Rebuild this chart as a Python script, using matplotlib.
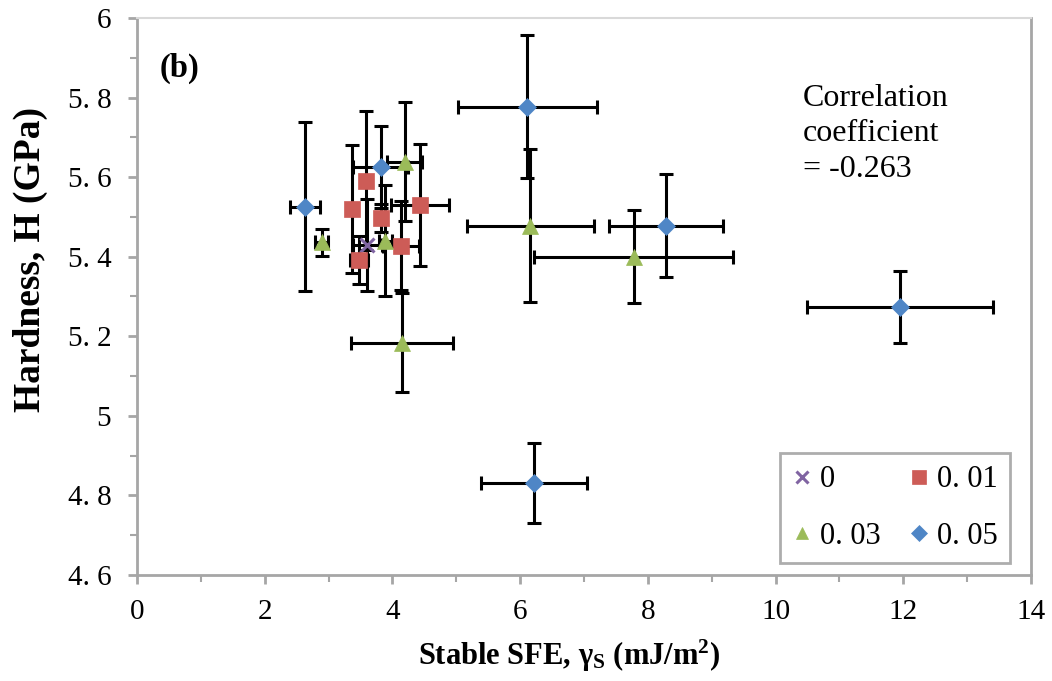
import matplotlib
matplotlib.use("Agg")
import matplotlib.pyplot as plt
from matplotlib.ticker import FixedLocator, MultipleLocator

plt.rcParams["mathtext.fontset"] = "custom"
plt.rcParams["mathtext.bf"] = "Liberation Serif:bold"
plt.rcParams["mathtext.rm"] = "Liberation Serif"
plt.rcParams["mathtext.it"] = "Liberation Serif:italic"

# ---- data ----
labels = ["0", "0. 01", "0. 03", "0. 05"]

x0 = [3.61]
y0 = [5.43]
xe0 = [0.22]
ye0 = [0.115]

x1 = [3.58, 3.37, 3.82, 4.43, 4.13, 3.48]
y1 = [5.591, 5.520, 5.497, 5.530, 5.428, 5.392]
xe1 = [0.05, 0.05, 0.08, 0.45, 0.28, 0.14]
ye1 = [0.174, 0.161, 0.035, 0.153, 0.112, 0.06]

x3 = [2.89, 3.89, 4.19, 4.15, 6.16, 7.78]
y3 = [5.436, 5.44, 5.639, 5.184, 5.478, 5.40]
xe3 = [0.10, 0.10, 0.27, 0.80, 0.99, 1.56]
ye3 = [0.034, 0.14, 0.15, 0.124, 0.193, 0.117]

x5 = [2.63, 3.82, 6.11, 8.28, 6.21, 11.95]
y5 = [5.526, 5.626, 5.777, 5.478, 4.831, 5.274]
xe5 = [0.23, 0.43, 1.09, 0.89, 0.83, 1.45]
ye5 = [0.213, 0.103, 0.179, 0.129, 0.10, 0.09]

x_ticks = [0, 2, 4, 6, 8, 10, 12, 14]
x_tick_labels = ["0", "2", "4", "6", "8", "10", "12", "14"]
y_ticks = [4.6, 4.8, 5.0, 5.2, 5.4, 5.6, 5.8, 6.0]
y_tick_labels = ["4. 6", "4. 8", "5", "5. 2", "5. 4", "5. 6", "5. 8", "6"]

series = [
    (x0, y0, xe0, ye0, "x", "#8064A2", 10),
    (x1, y1, xe1, ye1, "s", "#CD5C57", 11.5),
    (x3, y3, xe3, ye3, "^", "#9BBB59", 11),
    (x5, y5, xe5, ye5, "D", "#4F86C6", 9),
]

fig = plt.figure(figsize=(10.52, 6.81), dpi=100)
ax = fig.add_axes([0.1302, 0.1557, 0.8498, 0.8179])

serif = ["Liberation Serif", "DejaVu Serif"]
handles = []
for i, (xs, ys, xe, ye, m, c, ms) in enumerate(series):
    ax.errorbar(xs, ys, xerr=xe, yerr=ye, fmt="none", ecolor="black",
                elinewidth=2.2, capsize=5, capthick=2.2, zorder=2 + i)
    h = ax.plot(xs, ys, linestyle="none", marker=m, color=c, markersize=ms,
                markeredgecolor=c, markeredgewidth=2.2 if m == "x" else 0.5,
                zorder=10 + i, label=labels[i])[0]
    handles.append(h)

ax.set_xlim(0, 14)
ax.set_ylim(4.6, 6.0)
ax.xaxis.set_major_locator(FixedLocator(x_ticks))
ax.yaxis.set_major_locator(FixedLocator(y_ticks))
ax.xaxis.set_minor_locator(MultipleLocator(1))
ax.yaxis.set_minor_locator(MultipleLocator(0.1))
ax.set_xticklabels(x_tick_labels, fontfamily=serif, fontsize=21)
ax.set_yticklabels(y_tick_labels, fontfamily=serif, fontsize=21)

gray = "#a6a6a6"
for s in ["left", "bottom", "right"]:
    ax.spines[s].set_color(gray)
    ax.spines[s].set_linewidth(2.0)
ax.spines["top"].set_color("#d9d9d9")
ax.spines["top"].set_linewidth(1.5)

ax.tick_params(axis="both", which="major", direction="out", length=6.5,
               width=2, color=gray, top=False, right=False)
ax.tick_params(axis="both", which="minor", direction="out", length=5,
               width=1.5, color=gray, top=False, right=False)
ax.tick_params(axis="x", which="major", pad=11)
ax.tick_params(axis="y", which="major", pad=12)

ax.set_xlabel("Stable SFE, $\\mathbf{\\gamma_S}$ (mJ/m$^\\mathbf{2}$)",
              fontfamily=serif, fontsize=22, fontweight="bold")
ax.xaxis.set_label_coords(0.483, -0.112)
ax.set_ylabel("Hardness, H (GPa)", fontfamily=serif, fontsize=27,
              fontweight="bold")
ax.yaxis.set_label_coords(-0.099, 0.5655)

ax.text(0.025, 0.91, "(b)", transform=ax.transAxes, fontfamily=serif,
        fontsize=23.5, fontweight="bold", va="center", ha="left")
ax.text(0.745, 0.882, "Correlation\ncoefficient\n= -0.263", transform=ax.transAxes,
        fontfamily=serif, fontsize=23, va="top", ha="left", linespacing=1.3)

order = [0, 2, 1, 3]
leg = ax.legend(handles=[handles[k] for k in order], ncol=2, loc="lower right",
                bbox_to_anchor=(0.9765, 0.0215), borderaxespad=0,
                prop={"family": serif, "size": 22},
                frameon=True, fancybox=False, edgecolor="#999999",
                handlelength=0.65, handletextpad=0.25, columnspacing=0.95,
                borderpad=0.4, labelspacing=0.9, markerscale=0.85)
leg.get_frame().set_linewidth(2)

fig.savefig("out.png", dpi=100)
